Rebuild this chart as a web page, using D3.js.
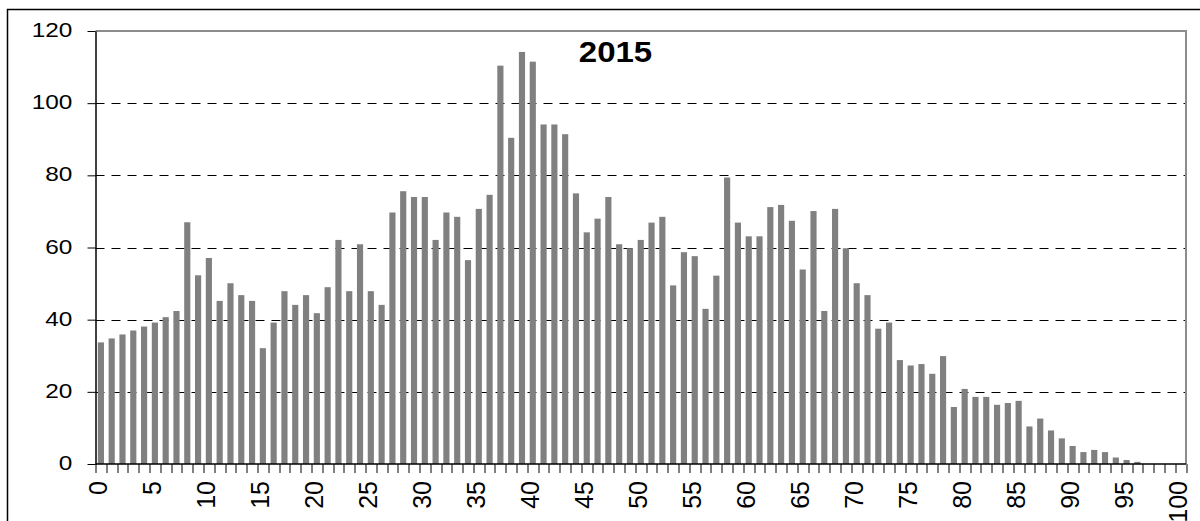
<!DOCTYPE html>
<html>
<head>
<meta charset="utf-8">
<script src="https://cdn.jsdelivr.net/npm/d3@7"></script>
<style>
  body { margin: 0; background: #fff; }
  svg { display: block; font-family: Arial, "Liberation Sans", sans-serif; }
</style>
</head>
<body>
<svg id="chart"></svg>
<script>
// data
const title = '2015'
const ages = d3.range(0, 101).map(String)
const counts = [
  33.7, 34.8, 35.9, 37.0, 38.1, 39.2, 40.7, 42.4, 67.0, 52.3,
  57.1, 45.2, 50.1, 46.8, 45.2, 32.1, 39.2, 47.9, 44.1, 46.8,
  41.8, 49.0, 62.1, 47.9, 60.9, 47.9, 44.1, 69.7, 75.6, 74.0,
  74.0, 62.1, 69.7, 68.5, 56.5, 70.7, 74.6, 110.4, 90.4, 114.2,
  111.5, 94.1, 94.1, 91.4, 75.0, 64.2, 68.0, 74.0, 60.9, 59.8,
  62.1, 66.9, 68.5, 49.5, 58.7, 57.6, 43.0, 52.2, 79.4, 66.9,
  63.1, 63.1, 71.2, 71.8, 67.4, 53.9, 70.1, 42.4, 70.7, 59.8,
  50.1, 46.8, 37.5, 39.2, 28.8, 27.3, 27.7, 25.0, 29.9, 15.8,
  20.8, 18.6, 18.6, 16.4, 16.9, 17.5, 10.4, 12.6, 9.3, 7.1,
  5.0, 3.3, 3.9, 3.3, 1.8, 1.1, 0.6, 0, 0, 0,
  0
]
const yTicks = [0, 20, 40, 60, 80, 100, 120]

const width = 1200
const height = 521
const margin = { top: 31, right: 14, bottom: 57, left: 95.5 }
const w = width - margin.left - margin.right
const h = height - margin.top - margin.bottom

const svg = d3.select('#chart').attr('width', width).attr('height', height)

// outer chart frame (runs off the right and bottom edges)
svg.append('path')
  .attr('d', `M7.5,${height + 5}V9.5H${width + 5}`)
  .attr('fill', 'none')
  .attr('stroke', '#000')
  .attr('stroke-width', 1.5)

const g = svg.append('g').attr('transform', `translate(${margin.left},${margin.top})`)

// SCALES
const x = d3.scaleBand().domain(ages).range([0, w]).paddingInner(0.43).paddingOuter(0.215)
const step = x.step()
const y = d3.scaleLinear().domain([0, 120]).range([h, 0])

// GRID
g.append('g')
  .selectAll('line')
  .data(yTicks.filter(d => d > 0 && d < 120))
  .join('line')
  .attr('x1', 0)
  .attr('x2', w)
  .attr('y1', d => Math.round(y(d)) + 0.5)
  .attr('y2', d => Math.round(y(d)) + 0.5)
  .attr('stroke', '#000')
  .attr('stroke-dasharray', '9,7')

// plot area border (top and right, grey)
g.append('path')
  .attr('d', `M0,0H${w}V${h}`)
  .attr('fill', 'none')
  .attr('stroke', '#8c8c8c')
  .attr('stroke-width', 2)

// BARS
g.append('g')
  .selectAll('rect')
  .data(counts)
  .join('rect')
  .attr('x', (d, i) => x(ages[i]))
  .attr('width', x.bandwidth())
  .attr('y', d => y(d))
  .attr('height', d => h - y(d))
  .attr('fill', '#808080')

// Y AXIS
const yAxis = g.append('g')
  .call(d3.axisLeft(y).tickValues(yTicks).tickSize(8).tickSizeOuter(0))
yAxis.select('.domain').attr('stroke', '#000').attr('stroke-width', 1.5)
yAxis.selectAll('.tick line').attr('stroke', '#000')
yAxis.selectAll('.tick text')
  .attr('x', -19)
  .attr('dy', '0.28em')
  .attr('transform', 'scale(1.22,1)')
  .attr('fill', '#000')
  .style('font-size', '20px')

// X AXIS: ticks on category boundaries, labels every 5
const xAxis = g.append('g').attr('transform', `translate(0,${h})`)
xAxis.append('line')
  .attr('x1', 0)
  .attr('x2', w)
  .attr('stroke', '#000')
  .attr('stroke-width', 1.5)
xAxis.selectAll('.tk')
  .data(d3.range(0, ages.length + 1))
  .join('line')
  .attr('class', 'tk')
  .attr('x1', i => Math.round(i * step) + 0.5)
  .attr('x2', i => Math.round(i * step) + 0.5)
  .attr('y1', 0)
  .attr('y2', 9)
  .attr('stroke', '#000')
xAxis.selectAll('.lbl')
  .data(ages.filter(d => +d % 5 === 0))
  .join('text')
  .attr('class', 'lbl')
  .attr('transform', d => `translate(${x(d) + x.bandwidth() / 2 - 2.5},0) rotate(-90)`)
  .attr('x', -17)
  .attr('dy', '0.35em')
  .attr('text-anchor', 'end')
  .style('font-size', '25px')
  .attr('fill', '#000')
  .text(d => d)

// TITLE
svg.append('text')
  .attr('transform', 'translate(615.5,61.7) scale(1.1,1)')
  .attr('text-anchor', 'middle')
  .style('font-size', '30px')
  .style('font-weight', 'bold')
  .text(title)
</script>
</body>
</html>
